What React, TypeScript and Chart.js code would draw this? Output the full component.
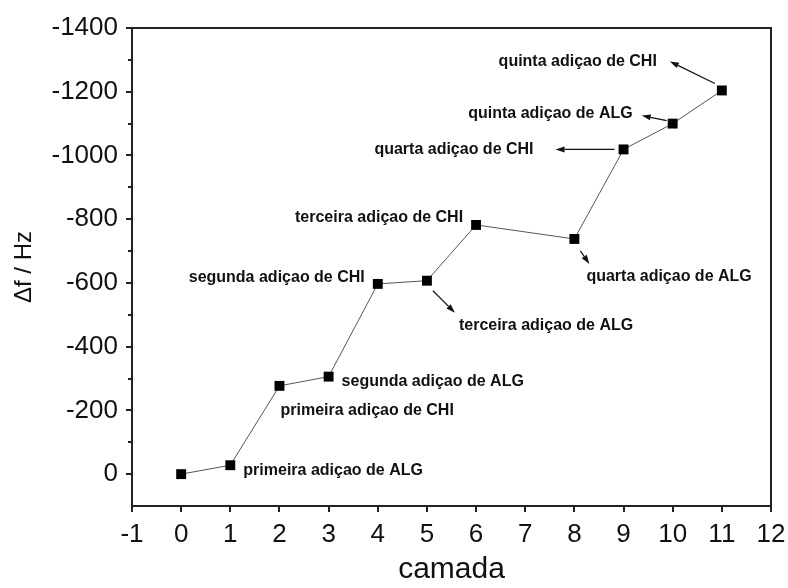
import { useEffect, useRef } from 'react';
import { Chart, registerables } from 'chart.js';

Chart.register(...registerables);

// Layer number (camada) and frequency shift (Δf, Hz) after each addition
const camada = [0, 1, 2, 3, 4, 5, 6, 8, 9, 10, 11];
const deltaF = [0, -28, -277, -306, -597, -607, -782, -738, -1019, -1100, -1204];

// Axis ticks
const xTicks = [-1, 0, 1, 2, 3, 4, 5, 6, 7, 8, 9, 10, 11, 12];
const yTicks = [-1400, -1200, -1000, -800, -600, -400, -200, 0];
const yMinorTicks = [-1300, -1100, -900, -700, -500, -300, -100];

// Text attached to each point (index into the series)
const stepLabels = [
  '',
  'primeira adiçao de ALG',
  'primeira adiçao de CHI',
  'segunda adiçao de ALG',
  'segunda adiçao de CHI',
  'terceira adiçao de ALG',
  'terceira adiçao de CHI',
  'quarta adiçao de ALG',
  'quarta adiçao de CHI',
  'quinta adiçao de ALG',
  'quinta adiçao de CHI',
];

// Placement of each label in pixels relative to its point, with optional arrow
type Placement = {
  dx: number;
  dy: number;
  align: CanvasTextAlign;
  arrow?: [number, number, number, number];
};
const placements: (Placement | null)[] = [
  null,
  { dx: 13, dy: 5, align: 'left' },
  { dx: 1, dy: 25, align: 'left' },
  { dx: 13, dy: 5, align: 'left' },
  { dx: -13, dy: -6, align: 'right' },
  { dx: 32, dy: 45, align: 'left', arrow: [6, 10, 28, 32] },
  { dx: -13, dy: -7, align: 'right' },
  { dx: 12, dy: 38, align: 'left', arrow: [6, 12, 15, 25] },
  { dx: -90, dy: 0, align: 'right', arrow: [-9, 0, -68, 0] },
  { dx: -40, dy: -10, align: 'right', arrow: [-6, -3, -31, -8] },
  { dx: -65, dy: -29, align: 'right', arrow: [-7, -7, -52, -29] },
];

const AXIS_COLOR = '#222';
const FONT = '"Liberation Sans", Arial, sans-serif';

function drawArrow(ctx: CanvasRenderingContext2D, sx: number, sy: number, ex: number, ey: number) {
  const ang = Math.atan2(ey - sy, ex - sx);
  const headLen = 9;
  const headHalf = 3;
  const bx = ex - headLen * Math.cos(ang);
  const by = ey - headLen * Math.sin(ang);
  ctx.beginPath();
  ctx.moveTo(sx, sy);
  ctx.lineTo(bx, by);
  ctx.lineWidth = 1.2;
  ctx.strokeStyle = '#111';
  ctx.stroke();
  ctx.beginPath();
  ctx.moveTo(ex, ey);
  ctx.lineTo(bx + headHalf * Math.sin(ang), by - headHalf * Math.cos(ang));
  ctx.lineTo(bx - headHalf * Math.sin(ang), by + headHalf * Math.cos(ang));
  ctx.closePath();
  ctx.fillStyle = '#111';
  ctx.fill();
}

const framePlugin = {
  id: 'frameAndNotes',
  afterDraw(chart: Chart) {
    const { ctx, chartArea } = chart;
    const xs = chart.scales.x;
    const ys = chart.scales.y;
    ctx.save();
    // top and right edges of the frame
    ctx.strokeStyle = AXIS_COLOR;
    ctx.lineWidth = 2;
    ctx.beginPath();
    ctx.moveTo(chartArea.left, chartArea.top);
    ctx.lineTo(chartArea.right, chartArea.top);
    ctx.lineTo(chartArea.right, chartArea.bottom);
    ctx.stroke();
    // minor ticks on the y axis
    ctx.lineWidth = 2;
    for (const v of yMinorTicks) {
      const py = Math.round(ys.getPixelForValue(v));
      ctx.beginPath();
      ctx.moveTo(chartArea.left - 4, py);
      ctx.lineTo(chartArea.left, py);
      ctx.stroke();
    }
    // step labels and arrows
    ctx.font = `bold 16px ${FONT}`;
    ctx.textBaseline = 'middle';
    ctx.fillStyle = '#111';
    stepLabels.forEach((text, i) => {
      const p = placements[i];
      if (!text || !p) return;
      const px = xs.getPixelForValue(camada[i]);
      const py = ys.getPixelForValue(deltaF[i]);
      ctx.textAlign = p.align;
      ctx.fillText(text, px + p.dx, py + p.dy);
      if (p.arrow) {
        const [sx, sy, ex, ey] = p.arrow;
        drawArrow(ctx, px + sx, py + sy, px + ex, py + ey);
      }
    });
    ctx.restore();
  },
};

export default function App() {
  const canvasRef = useRef<HTMLCanvasElement | null>(null);

  useEffect(() => {
    document.body.style.margin = '0';
    const canvas = canvasRef.current;
    if (!canvas) return;
    const chart = new Chart(canvas, {
      type: 'scatter',
      data: {
        datasets: [
          {
            data: camada.map((x, i) => ({ x, y: deltaF[i] })),
            showLine: true,
            borderColor: '#555',
            borderWidth: 1,
            pointStyle: 'rect',
            pointRadius: 7,
            pointBackgroundColor: '#000',
            pointBorderColor: '#000',
            pointBorderWidth: 0,
          },
        ],
      },
      options: {
        responsive: false,
        devicePixelRatio: 1,
        animation: false,
        layout: { padding: { top: 28, right: 17, left: 0, bottom: 0 } },
        plugins: {
          legend: { display: false },
          tooltip: { enabled: false },
        },
        scales: {
          x: {
            type: 'linear',
            min: -1,
            max: 12,
            afterBuildTicks: (scale: any) => {
              scale.ticks = xTicks.map((value) => ({ value }));
            },
            afterFit: (scale: any) => {
              scale.height = 82;
              scale.paddingLeft = 0;
              scale.paddingRight = 0;
            },
            grid: {
              drawOnChartArea: false,
              drawTicks: true,
              tickLength: 6,
              color: AXIS_COLOR,
              lineWidth: 2,
            },
            border: { display: true, color: AXIS_COLOR, width: 2 },
            ticks: {
              color: '#111',
              font: { family: FONT, size: 26 },
              padding: 7,
              maxRotation: 0,
              autoSkip: false,
              callback: (v: any) => String(v),
            },
            title: {
              display: true,
              text: 'camada',
              color: '#111',
              font: { family: FONT, size: 30 },
              padding: { top: 0, bottom: 0 },
            },
          },
          y: {
            type: 'linear',
            reverse: true,
            min: -1400,
            max: 100,
            afterBuildTicks: (scale: any) => {
              scale.ticks = yTicks.map((value) => ({ value }));
            },
            afterFit: (scale: any) => {
              scale.width = 132;
              scale.paddingTop = 0;
              scale.paddingBottom = 0;
            },
            grid: {
              drawOnChartArea: false,
              drawTicks: true,
              tickLength: 6,
              color: AXIS_COLOR,
              lineWidth: 2,
            },
            border: { display: true, color: AXIS_COLOR, width: 2 },
            ticks: {
              color: '#111',
              font: { family: FONT, size: 26 },
              padding: 8,
              autoSkip: false,
              callback: (v: any) => String(v),
            },
            title: {
              display: true,
              text: 'Δf / Hz',
              color: '#111',
              font: { family: FONT, size: 24 },
              padding: { top: 10, bottom: 0 },
            },
          },
        },
      },
      plugins: [framePlugin],
    });
    return () => chart.destroy();
  }, []);

  return (
    <div style={{ width: 788, height: 588, background: '#fff' }}>
      <canvas ref={canvasRef} width={788} height={588} />
    </div>
  );
}
